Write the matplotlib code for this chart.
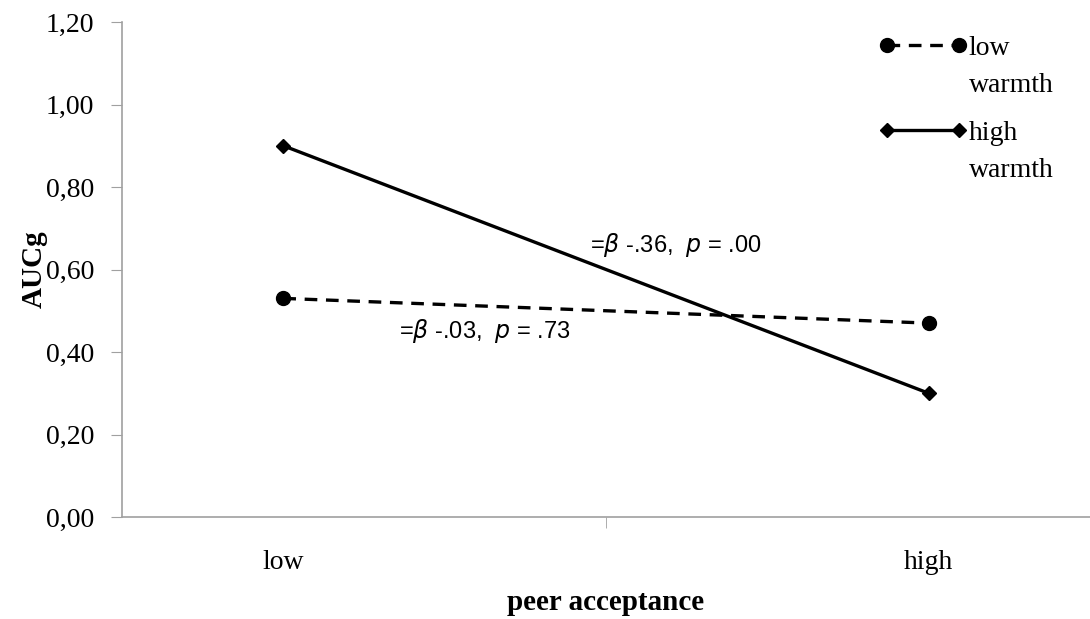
import matplotlib.pyplot as plt

categories = ["low", "high"]
low_warmth = [0.53, 0.47]
high_warmth = [0.90, 0.30]
y_ticks = [0.0, 0.2, 0.4, 0.6, 0.8, 1.0, 1.2]
y_labels = ["0,00", "0,20", "0,40", "0,60", "0,80", "1,00", "1,20"]

plt.rcParams["font.family"] = "Liberation Serif"

fig = plt.figure(figsize=(10.9, 6.19), dpi=100)
ax = fig.add_axes([122 / 1090, 1 - 517 / 619, (1090 - 122) / 1090, (517 - 22) / 619])

xs = [0, 2]
ax.plot(xs, low_warmth, color="black", lw=2.4, ls=(0, (3.8, 2.6)),
        marker="o", ms=10, label="low")
ax.plot(xs, high_warmth, color="black", lw=2.4, ls="-",
        marker="D", ms=7, label="high")

ax.set_xlim(-0.5, 2.5)
ax.set_ylim(0, 1.2)
ax.set_yticks(y_ticks)
ax.set_yticklabels(y_labels)
ax.set_xticks(xs)
ax.set_xticklabels(categories)
ax.set_xticks([0, 1, 2], minor=True)
ax.tick_params(axis="x", which="major", length=0, pad=24, labelsize=20)
ax.tick_params(axis="x", which="minor", length=8, color="#a0a0a0")
ax.tick_params(axis="y", length=8, color="#a0a0a0", pad=12, labelsize=20)

for side in ["top", "right"]:
    ax.spines[side].set_visible(False)
for side in ["left", "bottom"]:
    ax.spines[side].set_color("#a0a0a0")
    ax.spines[side].set_linewidth(1.2)

ax.set_ylabel("AUCg", fontsize=21, fontweight="bold")
ax.yaxis.set_label_coords(-0.077, 0.5)
ax.set_xlabel("peer acceptance", fontsize=21, fontweight="bold", labelpad=10)

ann_font = "Liberation Sans"
ax.text(0.95, 0.66, r"=$\it{\beta}$ -.36,  $\it{p}$ = .00", fontsize=17,
        family=ann_font, ha="left", va="center")
ax.text(0.36, 0.45, r"=$\it{\beta}$ -.03,  $\it{p}$ = .73", fontsize=17,
        family=ann_font, ha="left", va="center")

leg = ax.legend(loc="upper left", bbox_to_anchor=(0.77, 0.995), frameon=False,
                fontsize=20, numpoints=2, handlelength=3.2, handletextpad=0.05,
                labelspacing=2.13, borderaxespad=0)

# second line of each legend label, placed under the first
fig.canvas.draw()
inv = ax.transAxes.inverted()
for t in leg.get_texts():
    bb = t.get_window_extent()
    x0, y0 = inv.transform((bb.x0, bb.y0))
    ax.text(x0, y0 - 0.024, "warmth", fontsize=20, ha="left", va="top",
            transform=ax.transAxes)

fig.savefig("out.png", dpi=100)
